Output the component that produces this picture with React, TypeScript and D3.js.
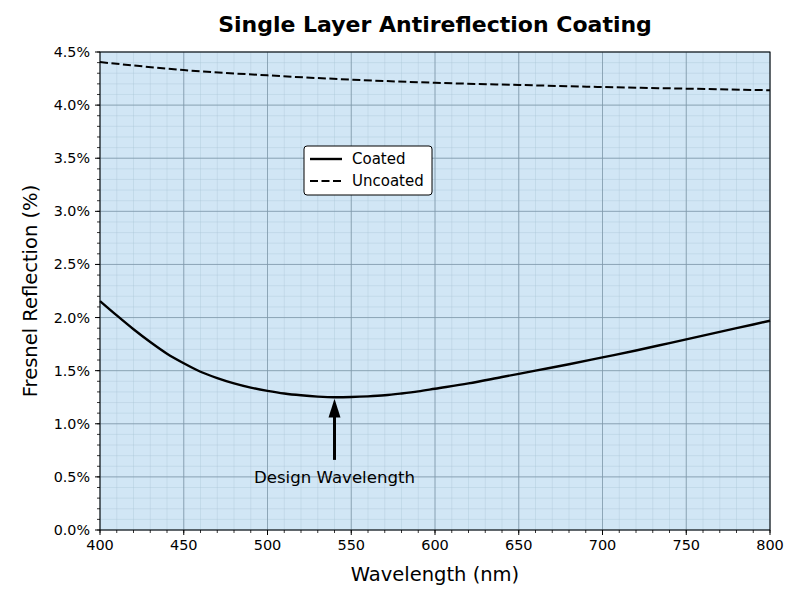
import React from 'react';
import * as d3 from 'd3';

const wavelengths = [400, 410, 420, 430, 440, 450, 460, 470, 480, 490, 500, 510, 520, 530, 540, 550, 560, 570, 580, 590, 600, 620, 640, 660, 680, 700, 720, 740, 760, 780, 800];
const coated = [2.155, 2.02, 1.89, 1.77, 1.66, 1.57, 1.49, 1.43, 1.38, 1.34, 1.31, 1.285, 1.268, 1.256, 1.25, 1.252, 1.258, 1.268, 1.285, 1.305, 1.33, 1.38, 1.44, 1.5, 1.56, 1.625, 1.69, 1.76, 1.83, 1.9, 1.97];
const uncoatedWl = [400, 450, 500, 550, 600, 650, 700, 750, 800];
const uncoated = [4.405, 4.33, 4.28, 4.24, 4.21, 4.19, 4.17, 4.155, 4.14];
const xTicks = [400, 450, 500, 550, 600, 650, 700, 750, 800];
const yTicks = [0, 0.5, 1, 1.5, 2, 2.5, 3, 3.5, 4, 4.5];
const designWl = 540;

export default function App() {
  const W = 801, H = 600;
  const m = { left: 100, right: 770, top: 52, bottom: 530 };
  const x = d3.scaleLinear().domain([400, 800]).range([m.left, m.right]);
  const y = d3.scaleLinear().domain([0, 4.5]).range([m.bottom, m.top]);
  const line = d3.line<[number, number]>().x(d => x(d[0])).y(d => y(d[1])).curve(d3.curveMonotoneX);
  const coatedPts = wavelengths.map((w, i) => [w, coated[i]] as [number, number]);
  const uncoatedPts = uncoatedWl.map((w, i) => [w, uncoated[i]] as [number, number]);
  const xMinor = d3.range(400, 801, 10);
  const yMinor = d3.range(0, 4.501, 0.1);
  const font = 'DejaVu Sans, sans-serif';
  const arrowX = x(designWl);

  return (
    <svg width={W} height={H} style={{ position: 'absolute', left: 0, top: 0 }} fontFamily={font}>
      <rect width={W} height={H} fill="#fff" />
      <rect x={m.left} y={m.top} width={m.right - m.left} height={m.bottom - m.top} fill="#d1e6f5" />
      {xMinor.map(v => (
        <line key={'xm' + v} x1={x(v)} x2={x(v)} y1={m.top} y2={m.bottom} stroke="#a9c3d6" strokeOpacity={0.6} strokeWidth={0.6} />
      ))}
      {yMinor.map(v => (
        <line key={'ym' + v} x1={m.left} x2={m.right} y1={y(v)} y2={y(v)} stroke="#a9c3d6" strokeOpacity={0.6} strokeWidth={0.6} />
      ))}
      {xTicks.map(v => (
        <line key={'xg' + v} x1={x(v)} x2={x(v)} y1={m.top} y2={m.bottom} stroke="#7f98aa" strokeWidth={0.8} />
      ))}
      {yTicks.map(v => (
        <line key={'yg' + v} x1={m.left} x2={m.right} y1={y(v)} y2={y(v)} stroke="#7f98aa" strokeWidth={0.8} />
      ))}
      <path d={line(uncoatedPts) || ''} fill="none" stroke="#000" strokeWidth={2} strokeDasharray="8,3.5" />
      <path d={line(coatedPts) || ''} fill="none" stroke="#000" strokeWidth={2.4} />
      <line x1={arrowX} x2={arrowX} y1={y(0.66)} y2={y(1.08)} stroke="#000" strokeWidth={3} />
      <path d={`M${arrowX},${y(1.235)} L${arrowX - 6},${y(1.06)} L${arrowX + 6},${y(1.06)} Z`} fill="#000" />
      <text x={arrowX} y={y(0.5)} dy="0.35em" textAnchor="middle" fontSize={16.6}>Design Wavelength</text>
      <rect x={m.left} y={m.top} width={m.right - m.left} height={m.bottom - m.top} fill="none" stroke="#000" strokeWidth={1} />
      {xTicks.map(v => (
        <g key={'xt' + v}>
          <line x1={x(v)} x2={x(v)} y1={m.bottom} y2={m.bottom + 5} stroke="#000" />
          <text x={x(v)} y={m.bottom + 20} textAnchor="middle" fontSize={14.5}>{v}</text>
        </g>
      ))}
      {xMinor.map(v => (
        <line key={'xmt' + v} x1={x(v)} x2={x(v)} y1={m.bottom} y2={m.bottom + 3} stroke="#000" strokeWidth={0.8} />
      ))}
      {yTicks.map(v => (
        <g key={'yt' + v}>
          <line x1={m.left - 5} x2={m.left} y1={y(v)} y2={y(v)} stroke="#000" />
          <text x={m.left - 10} y={y(v)} dy="0.35em" textAnchor="end" fontSize={14.3}>{v.toFixed(1) + '%'}</text>
        </g>
      ))}
      {yMinor.map(v => (
        <line key={'ymt' + v} x1={m.left - 3} x2={m.left} y1={y(v)} y2={y(v)} stroke="#000" strokeWidth={0.8} />
      ))}
      <text x={(m.left + m.right) / 2} y={32} textAnchor="middle" fontSize={22} fontWeight="bold">Single Layer Antireflection Coating</text>
      <text x={(m.left + m.right) / 2} y={581} textAnchor="middle" fontSize={19.5}>Wavelength (nm)</text>
      <text transform={`translate(37,${(m.top + m.bottom) / 2}) rotate(-90)`} textAnchor="middle" fontSize={19.5}>Fresnel Reflection (%)</text>
      <g transform="translate(304,146)">
        <rect width={128} height={49} rx={3} fill="#fff" stroke="#000" strokeWidth={1} />
        <line x1={6} x2={38} y1={13} y2={13} stroke="#000" strokeWidth={2.4} />
        <line x1={6} x2={38} y1={35} y2={35} stroke="#000" strokeWidth={2} strokeDasharray="8,3.5" />
        <text x={48} y={13} dy="0.35em" fontSize={15}>Coated</text>
        <text x={48} y={35} dy="0.35em" fontSize={15}>Uncoated</text>
      </g>
    </svg>
  );
}
